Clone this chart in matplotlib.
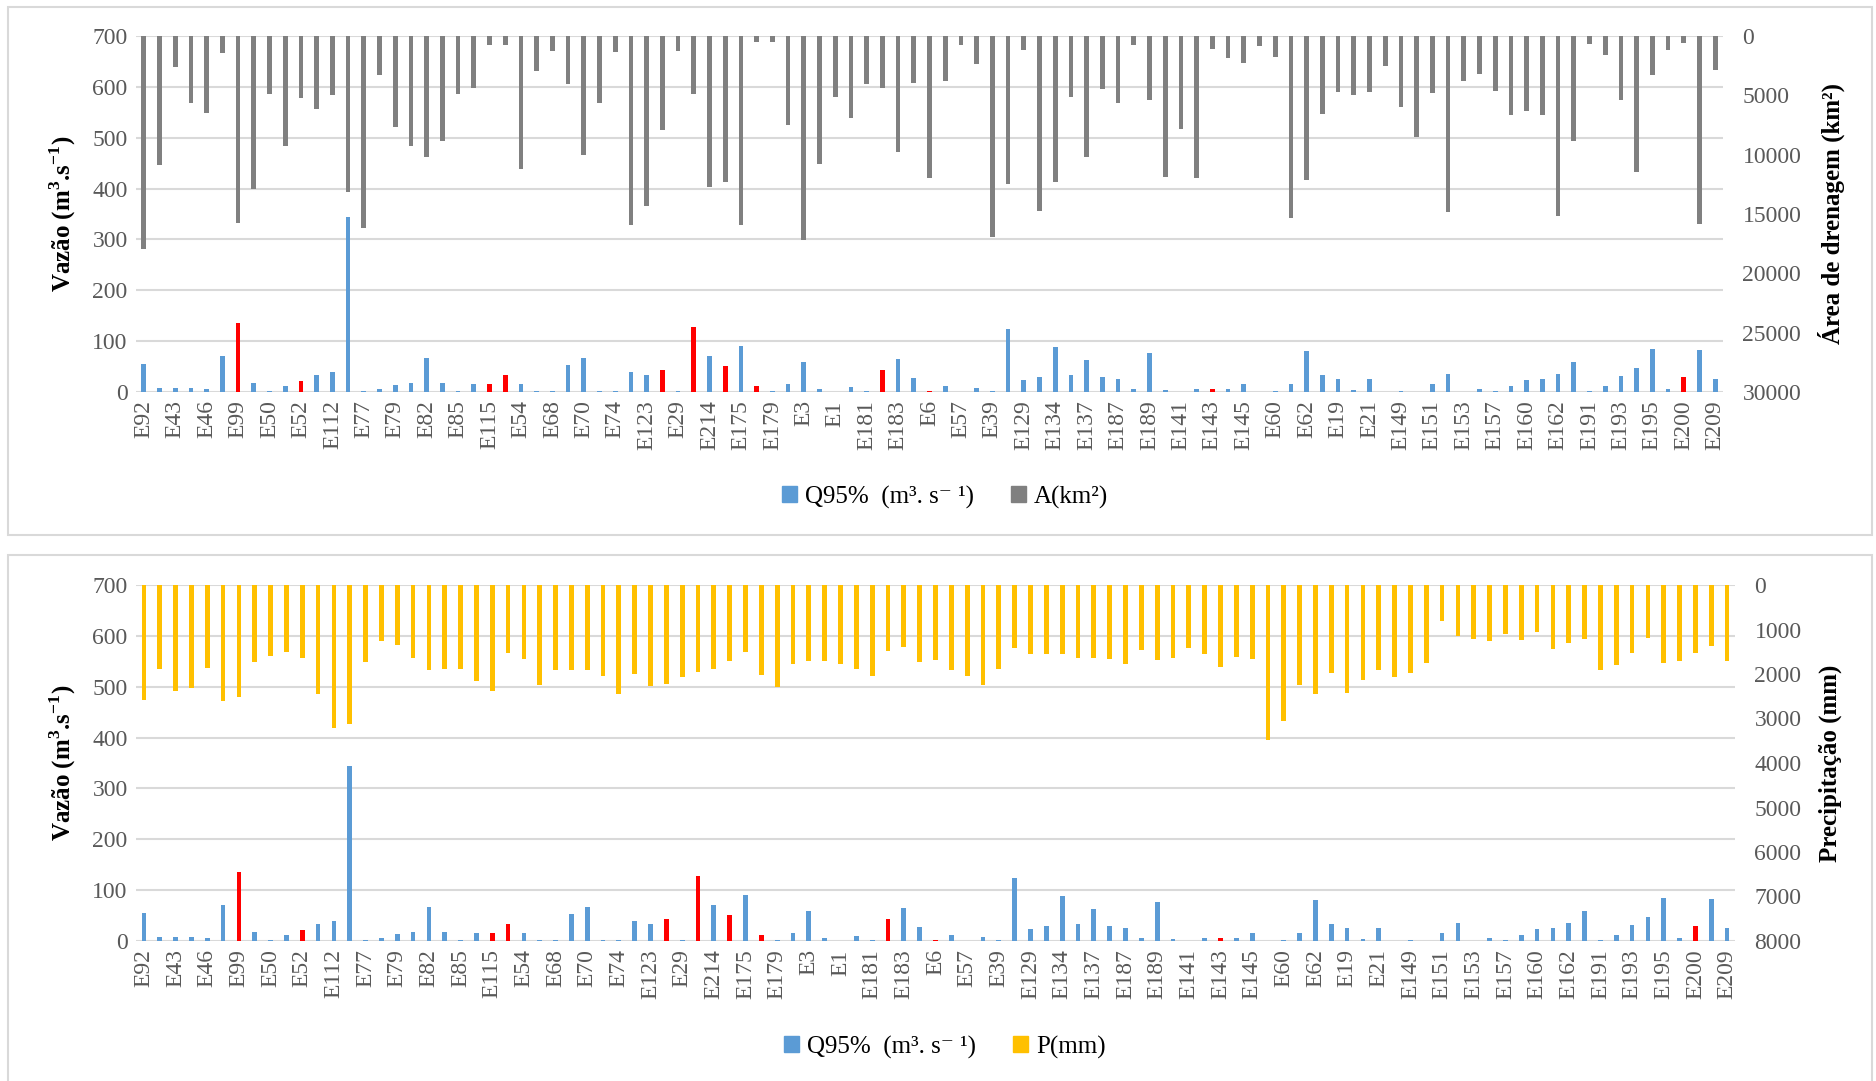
import matplotlib.pyplot as plt
import numpy as np
from matplotlib.patches import Patch, Rectangle

plt.rcParams['font.family'] = ['Liberation Serif', 'DejaVu Serif']
plt.rcParams['mathtext.fontset'] = 'custom'
plt.rcParams['mathtext.rm'] = 'Liberation Serif'
plt.rcParams['mathtext.bf'] = 'Liberation Serif:bold'

# rótulos exibidos (uma estação a cada duas)
rotulos = ['E92', 'E43', 'E46', 'E99', 'E50', 'E52', 'E112', 'E77', 'E79', 'E82',
           'E85', 'E115', 'E54', 'E68', 'E70', 'E74', 'E123', 'E29', 'E214', 'E175',
           'E179', 'E3', 'E1', 'E181', 'E183', 'E6', 'E57', 'E39', 'E129', 'E134',
           'E137', 'E187', 'E189', 'E141', 'E143', 'E145', 'E60', 'E62', 'E19', 'E21',
           'E149', 'E151', 'E153', 'E157', 'E160', 'E162', 'E191', 'E193', 'E195', 'E200',
           'E209']

q95 = [55.6, 7, 7, 7, 6.5, 70.7, 134.8, 17.7, 2, 12.4,
       22.2, 32.7, 39.9, 343.5, 1, 5, 13.7, 17.7, 66, 18.3,
       2, 15.7, 16.4, 34, 15, 2, 2, 53.6, 66.7, 1,
       1, 39.3, 32.7, 43.8, 1, 128.2, 70, 50.4, 91, 12.4,
       1, 15.7, 58.2, 5, 0.5, 9, 2, 43.8, 64.8, 28,
       2, 11.8, 0.5, 7, 2, 124.3, 24.2, 30, 89, 34,
       62.8, 28.8, 26.2, 6, 77.2, 4, 0.5, 5, 5, 5,
       16.4, 0.5, 2, 15.7, 79.8, 34, 26.2, 4, 26.2, 0.5,
       1, 0.5, 16.4, 36, 0.5, 6, 1, 11, 24.2, 26.2,
       34.7, 59.5, 1, 11.8, 32, 47.8, 85, 6, 30, 81.8,
       26.2]

# estações destacadas em vermelho
destaque = [6, 10, 22, 23, 33, 35, 37, 39, 47, 50, 68, 98]

area = [17940, 10850, 2610, 5610, 6480, 1400, 15730, 12870, 4910, 9250,
        5215, 6170, 4990, 13180, 16210, 3280, 7710, 9250, 10180, 8890,
        4880, 4370, 730, 785, 11240, 2920, 1260, 4010, 10010, 5660,
        1370, 15930, 14300, 7935, 1260, 4880, 12760, 12310, 15950, 530,
        505, 7460, 17190, 10820, 5130, 6870, 4010, 4370, 9760, 3950,
        12000, 3810, 760, 2380, 16935, 12500, 1150, 14750, 12280, 5100,
        10180, 4430, 5660, 760, 5410, 11920, 7850, 12000, 1090, 1880,
        2300, 810, 1740, 15310, 12170, 6590, 4680, 4960, 4740, 2500,
        5970, 8500, 4770, 14860, 3785, 3220, 4600, 6620, 6360, 6620,
        15170, 8860, 645, 1630, 5355, 11470, 3280, 1180, 560, 15840,
        2860]

precip = [2590, 1880, 2380, 2320, 1870, 2600, 2520, 1740, 1600, 1500,
          1640, 2450, 3210, 3120, 1720, 1255, 1340, 1630, 1905, 1890,
          1890, 2160, 2380, 1520, 1660, 2240, 1905, 1900, 1900, 2045,
          2455, 2006, 2277, 2215, 2075, 1963, 1897, 1711, 1510, 2021,
          2285, 1766, 1704, 1704, 1766, 1890, 2037, 1479, 1386, 1727,
          1681, 1913, 2037, 2254, 1897, 1417, 1557, 1541, 1541, 1642,
          1642, 1673, 1773, 1456, 1681, 1634, 1409, 1541, 1843, 1619,
          1670, 3477, 3067, 2246, 2447, 1967, 2424, 2137, 1905, 2060,
          1967, 1750, 805, 1154, 1216, 1255, 1100, 1231, 1061, 1440,
          1301, 1208, 1905, 1797, 1533, 1193, 1750, 1704, 1533, 1379,
          1704]

azul = '#5B9BD5'
cinza_txt = '#595959'
grade = '#D9D9D9'

x = np.arange(len(q95))
cores_q = ['#FF0000' if i in destaque else azul for i in x]

fig = plt.figure(figsize=(18.76, 10.81), dpi=100)

# molduras dos dois painéis
fig.add_artist(Rectangle((8 / 1876, 1 - 535 / 1081), 1864 / 1876, 528 / 1081,
                         transform=fig.transFigure, fill=False, edgecolor=grade, lw=1.5))
fig.add_artist(Rectangle((8 / 1876, -0.01), 1864 / 1876, 1 - 555 / 1081 + 0.01,
                         transform=fig.transFigure, fill=False, edgecolor=grade, lw=1.5))


def painel(ret, serie2, cor2, lim2, passo2, rotulo_dir, leg2, ylegenda):
    ax = fig.add_axes(ret)
    ax.bar(x, q95, width=0.3, color=cores_q, zorder=3)
    ax.set_ylim(0, 700)
    ax.set_yticks(range(0, 701, 100))
    ax.set_xlim(-0.5, len(x) - 0.5)
    ax.set_xticks(x[::2])
    ax.set_xticklabels(rotulos, rotation=90)
    ax.grid(axis='y', color=grade, lw=1.5, zorder=0)
    ax.set_axisbelow(True)
    for s in ax.spines.values():
        s.set_visible(False)
    ax.tick_params(length=0, labelsize=17, labelcolor=cinza_txt, pad=6)
    ax.set_ylabel(r'Vazão (m$^{\mathbf{3}}$.s$^{\mathbf{-1}}$)', fontsize=18,
                  fontweight='bold', labelpad=10)

    ax2 = ax.twinx()
    ax2.bar(x, serie2, width=0.3, color=cor2, zorder=3)
    ax2.set_ylim(lim2, 0)
    ax2.set_yticks(range(0, lim2 + 1, passo2))
    for s in ax2.spines.values():
        s.set_visible(False)
    ax2.tick_params(length=0, labelsize=17, labelcolor=cinza_txt, pad=14)
    ax2.set_ylabel(rotulo_dir, fontsize=18, fontweight='bold', labelpad=12)

    alcas = [Patch(color=azul), Patch(color=cor2)]
    fig.legend(alcas, ['Q95%  (m³. s⁻ ¹)', leg2], loc='center',
               bbox_to_anchor=(945 / 1876, 1 - ylegenda / 1081), ncol=2,
               frameon=False, fontsize=18, handlelength=0.6, handleheight=0.6,
               handletextpad=0.3, columnspacing=1.5)
    return ax, ax2


painel([136 / 1876, 1 - 392 / 1081, (1723 - 136) / 1876, 356 / 1081],
       area, '#808080', 30000, 5000, 'Área de drenagem (km²)', 'A(km²)', 497)
painel([136 / 1876, 1 - 941 / 1081, (1735 - 136) / 1876, 356 / 1081],
       precip, '#FFC000', 8000, 1000, 'Precipitação (mm)', 'P(mm)', 1047)

fig.savefig('out.png', dpi=100)
